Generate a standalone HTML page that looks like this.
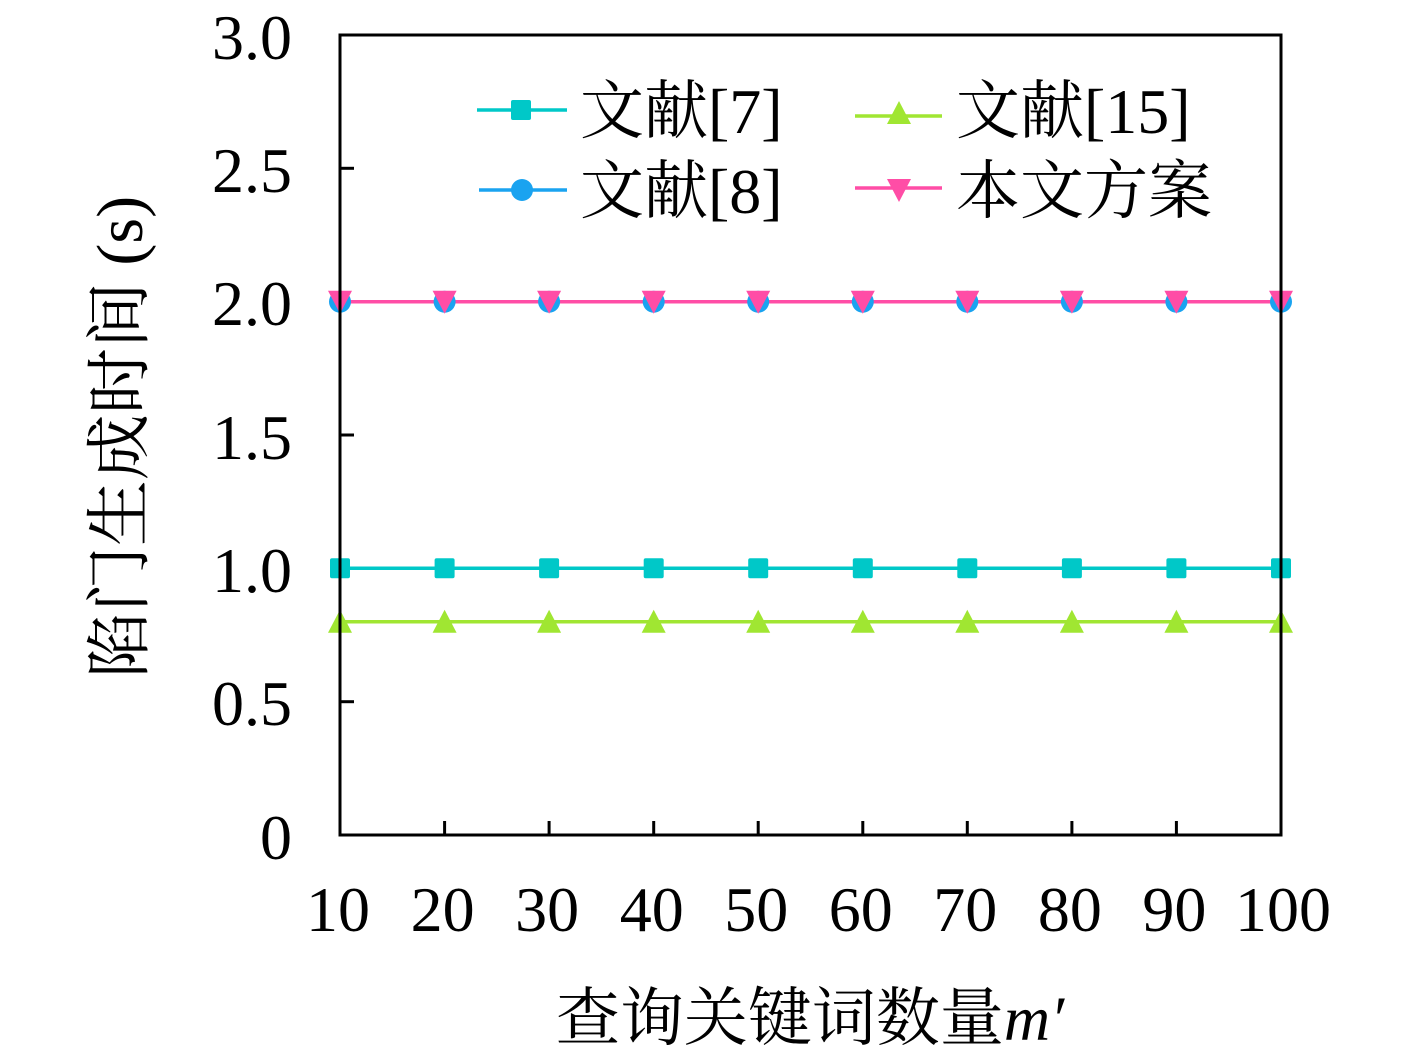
<!DOCTYPE html>
<html><head><meta charset="utf-8"><style>
html,body{margin:0;padding:0;background:#fff;}
svg{display:block;}
text{font-family:"Liberation Serif","Noto Serif CJK SC",serif;fill:#000;}
</style></head><body>
<svg width="1417" height="1058" viewBox="0 0 1417 1058" xmlns="http://www.w3.org/2000/svg">
<rect width="1417" height="1058" fill="#fff"/>
<g stroke="#000" stroke-width="3">
<line x1="340" y1="168.3" x2="354" y2="168.3"/>
<line x1="340" y1="301.7" x2="354" y2="301.7"/>
<line x1="340" y1="435" x2="354" y2="435"/>
<line x1="340" y1="568.3" x2="354" y2="568.3"/>
<line x1="340" y1="701.7" x2="354" y2="701.7"/>
<line x1="444.6" y1="835" x2="444.6" y2="821"/>
<line x1="549.1" y1="835" x2="549.1" y2="821"/>
<line x1="653.7" y1="835" x2="653.7" y2="821"/>
<line x1="758.2" y1="835" x2="758.2" y2="821"/>
<line x1="862.8" y1="835" x2="862.8" y2="821"/>
<line x1="967.3" y1="835" x2="967.3" y2="821"/>
<line x1="1071.9" y1="835" x2="1071.9" y2="821"/>
<line x1="1176.4" y1="835" x2="1176.4" y2="821"/>
</g>
<g font-size="64" text-anchor="end">
<text x="292" y="59">3.0</text>
<text x="292" y="192">2.5</text>
<text x="292" y="325">2.0</text>
<text x="292" y="459">1.5</text>
<text x="292" y="592">1.0</text>
<text x="292" y="725">0.5</text>
<text x="292" y="859">0</text>
</g>
<g font-size="64" text-anchor="middle">
<text x="338" y="931">10</text>
<text x="442.6" y="931">20</text>
<text x="547.1" y="931">30</text>
<text x="651.7" y="931">40</text>
<text x="756.2" y="931">50</text>
<text x="860.8" y="931">60</text>
<text x="965.3" y="931">70</text>
<text x="1069.9" y="931">80</text>
<text x="1174.4" y="931">90</text>
<text x="1283" y="931">100</text>
</g>
<text x="810" y="1040" font-size="64" text-anchor="middle">查询关键词数量<tspan font-style="italic">m′</tspan></text>
<text transform="translate(142,437) rotate(-90)" font-size="66" text-anchor="middle">陷门生成时间 (s)</text>
<defs>
<rect id="sq" x="-10" y="-10" width="20" height="20" rx="2" fill="#00c8c8"/>
<circle id="ci" r="11" fill="#1aa3f0"/>
<polygon id="tu" points="0,-12 12,11 -12,11" fill="#a0e632"/>
<polygon id="td" points="-12,-11 12,-11 0,12" fill="#ff4da6"/>
</defs>
<line x1="340" y1="568.3" x2="1281" y2="568.3" stroke="#00c8c8" stroke-width="3.5"/>
<line x1="340" y1="621.7" x2="1281" y2="621.7" stroke="#a0e632" stroke-width="3.5"/>
<line x1="340" y1="301.7" x2="1281" y2="301.7" stroke="#1aa3f0" stroke-width="3.5"/>
<line x1="340" y1="301.7" x2="1281" y2="301.7" stroke="#ff4da6" stroke-width="3.5"/>
<g>
<use href="#sq" x="340" y="568.3"/><use href="#sq" x="444.6" y="568.3"/><use href="#sq" x="549.1" y="568.3"/><use href="#sq" x="653.7" y="568.3"/><use href="#sq" x="758.2" y="568.3"/><use href="#sq" x="862.8" y="568.3"/><use href="#sq" x="967.3" y="568.3"/><use href="#sq" x="1071.9" y="568.3"/><use href="#sq" x="1176.4" y="568.3"/><use href="#sq" x="1281" y="568.3"/>
<use href="#tu" x="340" y="621.7"/><use href="#tu" x="444.6" y="621.7"/><use href="#tu" x="549.1" y="621.7"/><use href="#tu" x="653.7" y="621.7"/><use href="#tu" x="758.2" y="621.7"/><use href="#tu" x="862.8" y="621.7"/><use href="#tu" x="967.3" y="621.7"/><use href="#tu" x="1071.9" y="621.7"/><use href="#tu" x="1176.4" y="621.7"/><use href="#tu" x="1281" y="621.7"/>
<use href="#ci" x="340" y="301.7"/><use href="#ci" x="444.6" y="301.7"/><use href="#ci" x="549.1" y="301.7"/><use href="#ci" x="653.7" y="301.7"/><use href="#ci" x="758.2" y="301.7"/><use href="#ci" x="862.8" y="301.7"/><use href="#ci" x="967.3" y="301.7"/><use href="#ci" x="1071.9" y="301.7"/><use href="#ci" x="1176.4" y="301.7"/><use href="#ci" x="1281" y="301.7"/>
<use href="#td" x="340" y="301.7"/><use href="#td" x="444.6" y="301.7"/><use href="#td" x="549.1" y="301.7"/><use href="#td" x="653.7" y="301.7"/><use href="#td" x="758.2" y="301.7"/><use href="#td" x="862.8" y="301.7"/><use href="#td" x="967.3" y="301.7"/><use href="#td" x="1071.9" y="301.7"/><use href="#td" x="1176.4" y="301.7"/><use href="#td" x="1281" y="301.7"/>
</g>
<rect x="340" y="35" width="941" height="800" fill="none" stroke="#000" stroke-width="3"/>
<line x1="477" y1="110" x2="567" y2="110" stroke="#00c8c8" stroke-width="3.5"/><use href="#sq" x="521" y="110"/>
<line x1="479" y1="190" x2="567" y2="190" stroke="#1aa3f0" stroke-width="3.5"/><use href="#ci" x="522" y="190"/>
<line x1="855" y1="116" x2="942" y2="116" stroke="#a0e632" stroke-width="3.5"/><use href="#tu" x="899" y="113"/>
<line x1="855" y1="188" x2="942" y2="188" stroke="#ff4da6" stroke-width="3.5"/><use href="#td" x="899" y="190"/>
<g font-size="64">
<text x="580" y="133">文献[7]</text>
<text x="580" y="213">文献[8]</text>
<text x="956" y="133">文献[15]</text>
<text x="956" y="213">本文方案</text>
</g>
</svg>
</body></html>
